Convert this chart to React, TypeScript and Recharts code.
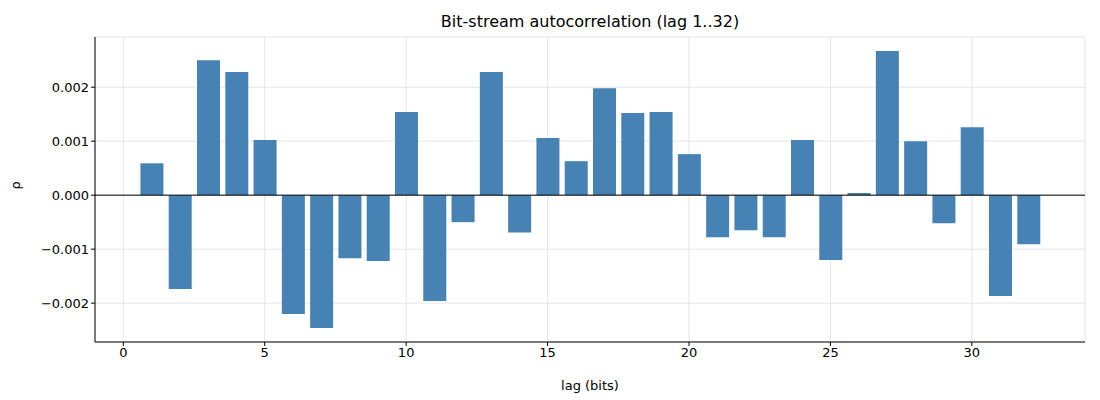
import { BarChart, Bar, XAxis, YAxis, CartesianGrid, ReferenceLine } from "recharts";

const lags = Array.from({ length: 32 }, (_, i) => i + 1);
const rho = [
  0.00059, -0.00174, 0.0025, 0.00228, 0.00102, -0.0022, -0.00246, -0.00117,
  -0.00122, 0.00154, -0.00196, -0.0005, 0.00228, -0.00069, 0.00106, 0.00063,
  0.00198, 0.00152, 0.00154, 0.00076, -0.00078, -0.00065, -0.00078, 0.00102,
  -0.0012, 0.00004, 0.00267, 0.001, -0.00052, 0.00126, -0.00187, -0.00091,
];
const xTicks = [0, 5, 10, 15, 20, 25, 30];
const yTicks = [-0.002, -0.001, 0, 0.001, 0.002];

const data = lags.map((lag, i) => ({ lag, rho: rho[i] }));

export default function App() {
  const font = "DejaVu Sans, sans-serif";
  return (
    <div style={{ position: "absolute", left: 0, top: 0, width: 1100, height: 400, background: "#fff", fontFamily: font }}>
      <div style={{ position: "absolute", top: 12, width: 1180, textAlign: "center", fontSize: 16, color: "#000" }}>
        Bit-stream autocorrelation (lag 1..32)
      </div>
      <BarChart width={1100} height={400} data={data} margin={{ top: 37, right: 15, left: 35, bottom: 28 }}>
        <CartesianGrid stroke="#e5e5e5" />
        <XAxis
          dataKey="lag"
          type="number"
          domain={[-1, 34]}
          ticks={xTicks}
          tick={{ fill: "#000", fontSize: 13, fontFamily: font }}
          stroke="#000"
          tickSize={4}
          height={30}
          label={{ value: "lag (bits)", position: "insideBottom", offset: -18, fill: "#000", fontSize: 13, fontFamily: font }}
        />
        <YAxis
          type="number"
          domain={[-0.00272, 0.00293]}
          ticks={yTicks}
          tickFormatter={(v: number) => (v < 0 ? "\u2212" + Math.abs(v).toFixed(3) : v.toFixed(3))}
          tick={{ fill: "#000", fontSize: 13, fontFamily: font }}
          stroke="#000"
          tickSize={4}
          width={60}
          label={{ value: "ρ", angle: -90, position: "insideLeft", offset: -20, fill: "#000", fontSize: 13, fontFamily: font }}
        />
        <ReferenceLine y={0} stroke="#000" strokeWidth={1} />
        <Bar dataKey="rho" fill="#4682b4" barSize={23} isAnimationActive={false} />
      </BarChart>
    </div>
  );
}
